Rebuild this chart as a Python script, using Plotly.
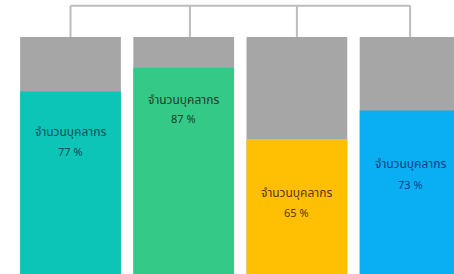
import plotly.graph_objects as go

categories = ["A", "B", "C", "D"]
values = [77, 87, 57, 69]
label_pct = ["77 %", "87 %", "65 %", "73 %"]
label_title = "จำนวนบุคลากร"
total = [100, 100, 100, 100]

colors = ["#0CC5B7", "#35C987", "#FFC003", "#0AAEF2"]
text_colors = ["#0B4F57", "#1E3B2C", "#5A3600", "#0B3D86"]
title_offsets = [41, 32, 54, 54]
pct_offsets = [61, 52, 75, 75]
conn_shift = [0, 0.055, 0, 0]

x = list(range(len(categories)))
bar_w = 0.89

fig = go.Figure()
fig.add_trace(go.Bar(x=x, y=total, width=bar_w, marker=dict(color="#A6A6A6", line=dict(width=0)),
                     hoverinfo="skip", showlegend=False))
fig.add_trace(go.Bar(x=x, y=values, width=bar_w, marker=dict(color=colors, line=dict(width=0)),
                     hovertext=[f"{label_title} {p}" for p in label_pct], showlegend=False))

font_family = "Noto Sans Thai, Noto Sans, sans-serif"
for i, (v, p, c, t_off, p_off) in enumerate(zip(values, label_pct, text_colors, title_offsets, pct_offsets)):
    fig.add_annotation(x=i, y=v, yanchor="middle", yshift=-t_off, showarrow=False,
                       text=label_title, font=dict(size=12, color=c, family=font_family))
    fig.add_annotation(x=i, y=v, yanchor="middle", yshift=-p_off, showarrow=False,
                       text=p, font=dict(size=11, color=c, family=font_family))

# tree connector
line_style = dict(color="#BDBDBD", width=2)
top_y = 113.2
fig.add_shape(type="line", x0=x[0], x1=x[-1], y0=top_y, y1=top_y, line=line_style)
for i in x:
    fig.add_shape(type="line", x0=i + conn_shift[i], x1=i + conn_shift[i], y0=top_y, y1=total[i],
                  line=line_style)

fig.update_layout(
    width=454, height=274,
    margin=dict(l=0, r=0, t=0, b=0),
    barmode="overlay",
    paper_bgcolor="white", plot_bgcolor="white",
    xaxis=dict(range=[-0.623, 3.388], visible=False),
    yaxis=dict(range=[0, 115.6], visible=False),
)
fig.write_html("out.html", config={"displayModeBar": False},
               post_script="document.body.style.margin='0';document.body.style.overflow='hidden';")
